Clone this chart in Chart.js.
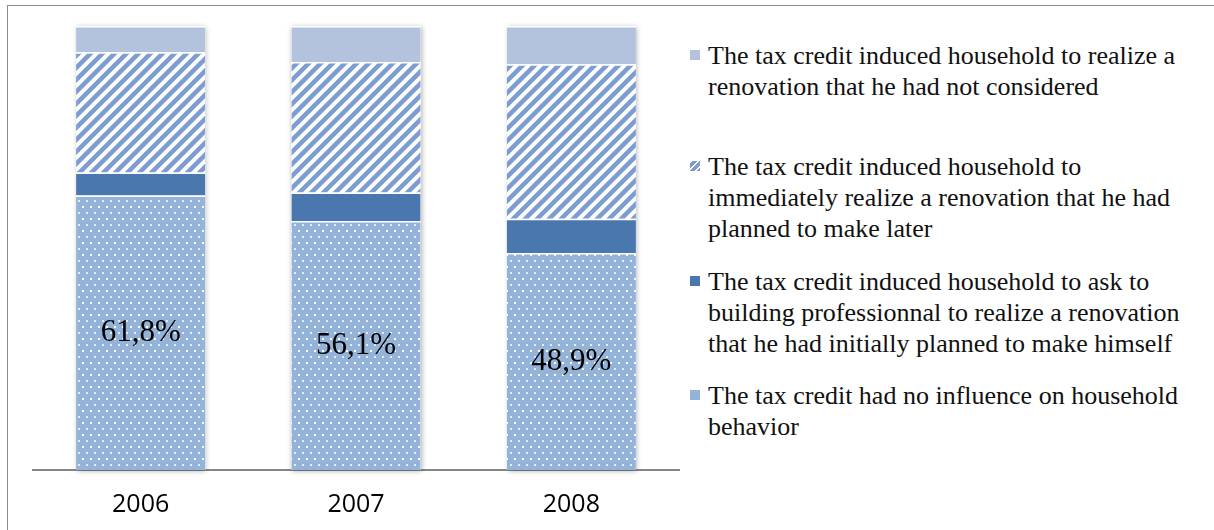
<!DOCTYPE html>
<html>
<head>
<meta charset="utf-8">
<script src="https://cdn.jsdelivr.net/npm/chart.js@4.4.1/dist/chart.umd.min.js"></script>
<style>
    html, body { margin: 0; padding: 0; background: #fff; }
    body { width: 1214px; height: 530px; position: relative; overflow: hidden; }
    .frame { position: absolute; left: 7px; top: 5px; width: 1220px; height: 540px; border: 1.5px solid #8c8c8c; box-sizing: border-box; }
    .chart-box { position: absolute; left: 0; top: 0; width: 700px; height: 532px; }
    .legend { position: absolute; left: 0; top: 0; font-family: "Liberation Serif", "Times New Roman", serif; font-size: 26px; color: #111; }
    .legend .item { position: absolute; left: 708px; width: 488px; line-height: 31px; }
    .legend .mark { position: absolute; left: -18px; top: 10px; width: 10px; height: 10px; }
</style>
</head>
<body>
<div class="frame"></div>
<div class="chart-box"><canvas id="chart" width="700" height="532"></canvas></div>
<div class="legend" id="legend"></div>
<script>
    const years = ['2006', '2007', '2008'];
    const seriesNames = [
        'The tax credit had no influence on household behavior',
        'The tax credit induced household to ask to building professionnal to realize a renovation that he had initially planned to make himself',
        'The tax credit induced household to immediately realize a renovation that he had planned to make later',
        'The tax credit induced household to realize a renovation that he had not considered'
    ];
    const noInfluence = [61.8, 56.1, 48.9];
    const professional = [5.2, 6.4, 7.7];
    const immediately = [27.1, 29.4, 34.8];
    const notConsidered = [5.9, 8.1, 8.6];
    const legendTops = [40, 151, 266, 380];

    // --- PATTERNS ---
    function dotPattern() {
        const c = document.createElement('canvas');
        c.width = 8; c.height = 12;
        const g = c.getContext('2d');
        g.fillStyle = '#94b3d8';
        g.fillRect(0, 0, 8, 12);
        g.fillStyle = '#ffffff';
        g.fillRect(2, 2, 2, 2);
        g.fillStyle = 'rgba(255,255,255,0.75)';
        g.fillRect(6, 8, 2, 2);
        return g.createPattern(c, 'repeat');
    }
    function hatchPattern() {
        const s = 12;
        const c = document.createElement('canvas');
        c.width = s; c.height = s;
        const g = c.getContext('2d');
        g.fillStyle = '#ffffff';
        g.fillRect(0, 0, s, s);
        g.strokeStyle = '#7d9dd1';
        g.lineWidth = 4.5;
        g.beginPath();
        g.moveTo(-2, s + 2); g.lineTo(s + 2, -2);
        g.moveTo(-2, 2); g.lineTo(2, -2);
        g.moveTo(s - 2, s + 2); g.lineTo(s + 2, s - 2);
        g.stroke();
        return g.createPattern(c, 'repeat');
    }

    const fills = [dotPattern(), '#4a77ae', hatchPattern(), '#b3c3de'];
    const values = [noInfluence, professional, immediately, notConsidered];

    // white box with soft shadow behind each full stack
    const stackShadow = {
        id: 'stackShadow',
        beforeDatasetsDraw(chart) {
            const ctx = chart.ctx;
            const first = chart.getDatasetMeta(0).data;
            const last = chart.getDatasetMeta(values.length - 1).data;
            ctx.save();
            ctx.shadowColor = 'rgba(0,0,0,0.3)';
            ctx.shadowBlur = 5;
            ctx.shadowOffsetX = 1;
            ctx.shadowOffsetY = 1;
            ctx.fillStyle = '#fff';
            first.forEach((bar, i) => {
                const w = bar.width;
                ctx.fillRect(bar.x - w / 2, last[i].y, w, bar.base - last[i].y);
            });
            ctx.restore();
        }
    };

    const valueLabels = {
        id: 'valueLabels',
        afterDatasetsDraw(chart) {
            const ctx = chart.ctx;
            ctx.save();
            ctx.font = '31px "Liberation Serif", "Times New Roman", serif';
            ctx.fillStyle = '#000';
            ctx.textAlign = 'center';
            ctx.textBaseline = 'middle';
            chart.getDatasetMeta(0).data.forEach((bar, i) => {
                const txt = noInfluence[i].toFixed(1).replace('.', ',') + '%';
                ctx.fillText(txt, bar.x, (bar.y + bar.base) / 2);
            });
            ctx.restore();
        }
    };

    new Chart(document.getElementById('chart'), {
        type: 'bar',
        data: {
            labels: years,
            datasets: values.map((v, i) => ({
                label: seriesNames[i],
                data: v,
                backgroundColor: fills[i],
                borderColor: '#ffffff',
                borderWidth: { top: 1.5, left: 0, right: 0, bottom: 0 },
                borderSkipped: false,
                barPercentage: 0.6,
                categoryPercentage: 1
            }))
        },
        options: {
            responsive: false,
            animation: false,
            layout: { padding: { left: 33, right: 21, top: 26, bottom: 0 } },
            plugins: { legend: { display: false }, tooltip: { enabled: false } },
            scales: {
                x: {
                    stacked: true,
                    grid: { display: false },
                    border: { display: true, color: '#868686', width: 2 },
                    ticks: { color: '#000', padding: 12, font: { family: '"Open Sans"', size: 25 } }
                },
                y: {
                    stacked: true,
                    min: 0,
                    max: 100,
                    display: false
                }
            }
        },
        plugins: [stackShadow, valueLabels]
    });

    // --- HTML LEGEND (top entry first, like the stack) ---
    const legend = document.getElementById('legend');
    const markStyles = [
        'background:#94b3d8;',
        'background:#4a77ae;',
        'background:repeating-linear-gradient(135deg,#fff 0 2px,#7d9dd1 2px 5px);',
        'background:#b3c3de;'
    ];
    [3, 2, 1, 0].forEach((k, j) => {
        const item = document.createElement('div');
        item.className = 'item';
        item.style.top = legendTops[j] + 'px';
        item.innerHTML = '<span class="mark" style="' + markStyles[k] + '"></span>' + seriesNames[k];
        legend.appendChild(item);
    });
</script>
</body>
</html>
